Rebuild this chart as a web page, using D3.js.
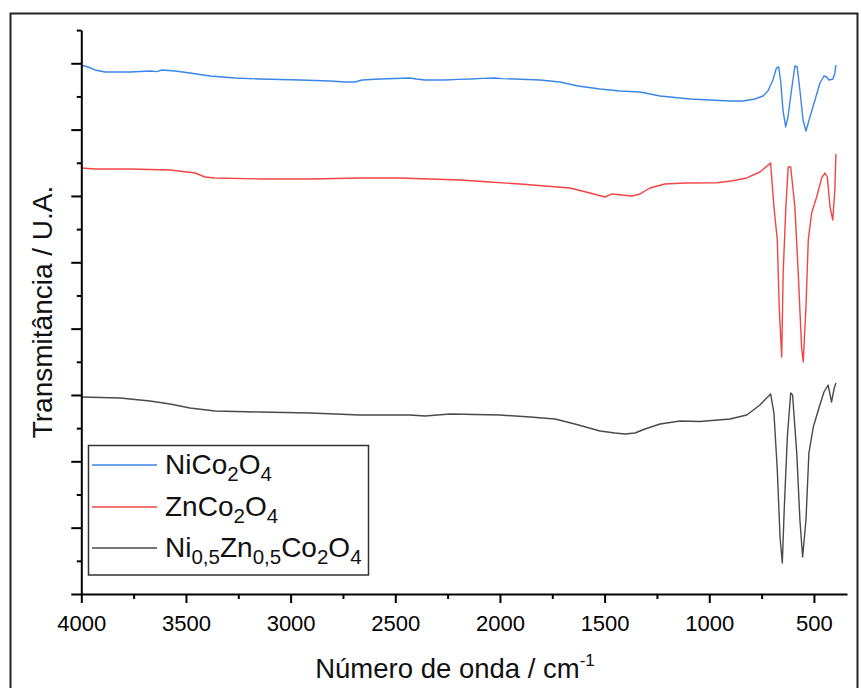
<!DOCTYPE html>
<html>
<head>
<meta charset="utf-8">
<script src="https://cdn.jsdelivr.net/npm/d3@7"></script>
<style>
  html, body { margin: 0; padding: 0; background: #fff; }
  svg { display: block; font-family: "Liberation Sans", Arial, sans-serif; }
</style>
</head>
<body>
<svg id="chart" width="861" height="688"></svg>
<script>
// ---- Data (wavenumber cm-1, transmittance in arbitrary units) ----
const seriesNames = ["NiCo2O4", "ZnCo2O4", "Ni0.5Zn0.5Co2O4"];
const seriesColors = ["#3a86e8", "#f24444", "#4a4a4a"];

const niCo2O4 = [
  [4000,7.974],[3968,7.944],[3935,7.899],[3887,7.869],[3767,7.869],[3672,7.884],[3640,7.874],[3614,7.899],
  [3552,7.884],[3481,7.854],[3385,7.808],[3266,7.778],[3146,7.763],[2955,7.748],[2812,7.733],[2740,7.718],
  [2693,7.718],[2659,7.748],[2573,7.763],[2430,7.778],[2400,7.763],[2358,7.748],[2262,7.748],[2200,7.758],[2143,7.763],
  [2080,7.773],[2024,7.778],[1990,7.768],[1928,7.763],[1809,7.748],[1713,7.718],[1627,7.658],[1522,7.612],[1427,7.582],
  [1331,7.567],[1235,7.507],[1092,7.461],[997,7.446],[901,7.431],[839,7.431],[782,7.461],[743,7.507],
  [720,7.582],[696,7.748],[679,7.929],[668,7.944],[658,7.703],[648,7.296],[635,7.040],[624,7.190],
  [607,7.597],[591,7.959],[580,7.944],[567,7.597],[552,7.145],[538,6.979],[519,7.190],[495,7.446],
  [471,7.703],[452,7.808],[439,7.793],[428,7.748],[409,7.763],[400,7.854],[395,7.974]
];

const znCo2O4 = [
  [4000,6.422],[3935,6.406],[3767,6.406],[3576,6.391],[3456,6.346],[3409,6.286],[3361,6.271],[3146,6.256],
  [2907,6.256],[2669,6.271],[2478,6.271],[2334,6.256],[2191,6.241],[2048,6.210],[1904,6.180],[1785,6.150],
  [1666,6.120],[1570,6.045],[1498,5.984],[1465,6.030],[1417,6.015],[1369,6.000],[1331,6.030],[1283,6.120],
  [1212,6.180],[1116,6.195],[963,6.200],[887,6.230],[821,6.271],[758,6.361],[707,6.497],[691,5.834],
  [675,5.336],[666,4.326],[654,3.573],[647,4.839],[634,5.834],[623,6.437],[611,6.437],[591,5.834],
  [575,4.839],[559,3.723],[551,3.497],[538,4.326],[527,5.336],[511,5.743],[487,5.984],[463,6.271],
  [447,6.346],[436,6.286],[423,5.834],[410,5.638],[400,6.090],[395,6.633]
];

const niZnCo2O4 = [
  [4000,2.970],[3815,2.955],[3672,2.909],[3576,2.864],[3481,2.804],[3361,2.759],[3146,2.743],[2907,2.728],
  [2669,2.698],[2430,2.698],[2358,2.683],[2239,2.713],[2000,2.698],[1856,2.668],[1737,2.638],[1642,2.563],
  [1522,2.457],[1451,2.427],[1403,2.412],[1355,2.427],[1307,2.487],[1235,2.563],[1140,2.608],[1044,2.600],
  [901,2.638],[821,2.698],[758,2.849],[707,3.015],[691,2.728],[675,1.869],[662,0.859],[651,0.467],
  [642,1.266],[627,2.367],[611,3.030],[602,3.000],[582,2.125],[567,1.115],[554,0.558],[538,1.115],
  [524,2.125],[503,2.517],[479,2.774],[452,3.045],[432,3.150],[416,2.894],[403,3.105],[395,3.181]
];

const seriesData = [niCo2O4, znCo2O4, niZnCo2O4];

const xMajorTicks = [4000, 3500, 3000, 2500, 2000, 1500, 1000, 500];
const xMinorTicks = [3750, 3250, 2750, 2250, 1750, 1250, 750];
const yMajorTicks = [0, 1, 2, 3, 4, 5, 6, 7, 8];
const yMinorTicks = [0.5, 1.5, 2.5, 3.5, 4.5, 5.5, 6.5, 7.5, 8.5];

// ---- Layout ----
const svg = d3.select("#chart");
const plotLeft = 81.3, plotRight = 847, plotTop = 30.1, plotBottom = 594;

const x = d3.scaleLinear().domain([4000, 342]).range([plotLeft, plotRight]);
const y = d3.scaleLinear().domain([0, 8.5]).range([plotBottom, plotTop]);

// outer frame
svg.append("rect")
  .attr("x", 10.5).attr("y", 13.5)
  .attr("width", 847).attr("height", 700)
  .attr("fill", "none").attr("stroke", "#222").attr("stroke-width", 2);

// series lines
const line = d3.line().x(d => x(d[0])).y(d => y(d[1]));
seriesData.forEach((data, i) => {
  svg.append("path")
    .datum(data)
    .attr("fill", "none")
    .attr("stroke", seriesColors[i])
    .attr("stroke-width", 1.4)
    .attr("stroke-linejoin", "round")
    .attr("d", line);
});

// axes
const xAxis = svg.append("g").attr("transform", `translate(0,${plotBottom})`)
  .call(d3.axisBottom(x).tickValues(xMajorTicks).tickFormat(d3.format("d"))
    .tickSizeInner(9).tickSizeOuter(0).tickPadding(12.4));
xAxis.select(".domain").attr("stroke", "#000").attr("stroke-width", 2);
xAxis.selectAll(".tick line").attr("stroke", "#000").attr("stroke-width", 2);
xAxis.selectAll(".tick text").attr("font-size", 22).attr("fill", "#000")
  .attr("font-family", "'Liberation Sans', Arial, sans-serif");

const xMinor = svg.append("g").attr("transform", `translate(0,${plotBottom})`)
  .call(d3.axisBottom(x).tickValues(xMinorTicks).tickFormat("").tickSizeInner(5).tickSizeOuter(0));
xMinor.select(".domain").remove();
xMinor.selectAll(".tick line").attr("stroke", "#000").attr("stroke-width", 2);

const yAxis = svg.append("g").attr("transform", `translate(${plotLeft},0)`)
  .call(d3.axisLeft(y).tickValues(yMajorTicks).tickFormat("").tickSizeInner(10).tickSizeOuter(0));
yAxis.select(".domain").attr("stroke", "#000").attr("stroke-width", 2);
yAxis.selectAll(".tick line").attr("stroke", "#000").attr("stroke-width", 2);

const yMinor = svg.append("g").attr("transform", `translate(${plotLeft},0)`)
  .call(d3.axisLeft(y).tickValues(yMinorTicks).tickFormat("").tickSizeInner(4.5).tickSizeOuter(0));
yMinor.select(".domain").remove();
yMinor.selectAll(".tick line").attr("stroke", "#000").attr("stroke-width", 2);

// axis titles
const xt = svg.append("text")
  .attr("x", 455).attr("y", 678)
  .attr("text-anchor", "middle")
  .attr("font-size", 27.5).attr("fill", "#111");
xt.append("tspan").text("Número de onda / cm");
xt.append("tspan").attr("font-size", 17).attr("dy", -12).text("-1");

svg.append("text")
  .attr("transform", "translate(52,312) rotate(-90)")
  .attr("text-anchor", "middle")
  .attr("font-size", 28).attr("fill", "#111")
  .text("Transmitância / U.A.");

// legend
const legend = svg.append("g");
legend.append("rect")
  .attr("x", 88.5).attr("y", 445.5).attr("width", 280).attr("height", 129.5)
  .attr("fill", "#fff").attr("stroke", "#333").attr("stroke-width", 1.5);

const legendParts = [
  [["Ni", false], ["Co", false], ["2", true], ["O", false], ["4", true]],
  [["Zn", false], ["Co", false], ["2", true], ["O", false], ["4", true]],
  [["Ni", false], ["0,5", true], ["Zn", false], ["0,5", true], ["Co", false], ["2", true], ["O", false], ["4", true]]
];
const rowY = [465, 507, 548];
legendParts.forEach((parts, i) => {
  legend.append("line")
    .attr("x1", 92).attr("x2", 157).attr("y1", rowY[i]).attr("y2", rowY[i])
    .attr("stroke", seriesColors[i]).attr("stroke-width", 1.4);
  const t = legend.append("text")
    .attr("x", 165).attr("y", rowY[i] + 9)
    .attr("font-size", 28).attr("fill", "#111");
  let prevSub = false;
  parts.forEach(([s, sub]) => {
    const ts = t.append("tspan").text(s);
    if (sub && !prevSub) ts.attr("font-size", 20.5).attr("dy", 7);
    else if (!sub && prevSub) ts.attr("dy", -7);
    else if (sub) ts.attr("font-size", 20.5);
    prevSub = sub;
  });
});
</script>
</body>
</html>
